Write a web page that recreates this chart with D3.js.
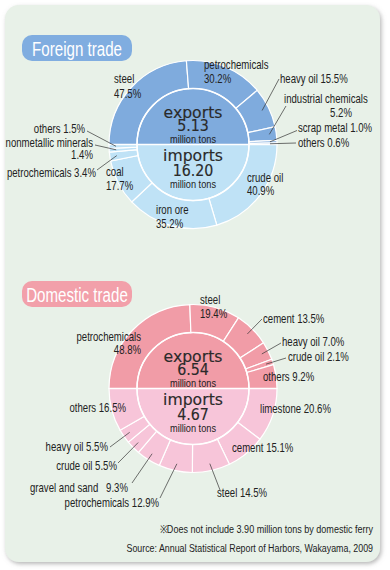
<!DOCTYPE html>
<html><head><meta charset="utf-8">
<script src="https://cdn.jsdelivr.net/npm/d3@7"></script>
<style>body{margin:0;background:#fff}svg{display:block}text{font-family:"Liberation Sans",Arial,sans-serif;fill:#222}</style>
</head><body>
<svg id="c" width="390" height="570"></svg>
<script>
// ---- data ----
const foreignExportCats = ["steel","petrochemicals","heavy oil","industrial chemicals","scrap metal","others"];
const foreignExportVals = [47.5,30.2,15.5,5.2,1.0,0.6];
const foreignImportCats = ["crude oil","iron ore","coal","petrochemicals","nonmetallic minerals","others"];
const foreignImportVals = [40.9,35.2,17.7,3.4,1.4,1.5];
const foreignTotals = [5.13, 16.20];
const domesticExportCats = ["petrochemicals","steel","cement","heavy oil","crude oil","others"];
const domesticExportVals = [48.8,19.4,13.5,7.0,2.1,9.2];
const domesticImportCats = ["limestone","cement","steel","petrochemicals","gravel and sand","crude oil","heavy oil","others"];
const domesticImportVals = [20.6,15.1,14.5,12.9,9.3,5.5,5.5,16.5];
const domesticTotals = [6.54, 4.67];
const titles = ["Foreign trade","Domestic trade"];
const notes = ["※Does not include 3.90 million tons by domestic ferry","Source: Annual Statistical Report of Harbors, Wakayama, 2009"];

// ---- label layout (positions relative to chart center) ----
// part: n = name, p = percent, np = both
const fExpLayout = [
  {lines:[["n",-79,-61.5,"start"],["p",-79,-46.5,"start"]]},
  {lines:[["n",11,-75.5,"start"],["p",11,-61.5,"start"]]},
  {lines:[["np",87,-61.5,"start"]], leader:[86,-65.5]},
  {lines:[["n",91,-41.5,"start"],["p",159,-27.5,"end"]], leader:[93,-38.5]},
  {lines:[["np",105,-12.5,"start"]], leader:[104,-14]},
  {lines:[["np",105,2,"start"]], leader:[103,-1.5]}
];
const fImpLayout = [
  {lines:[["n",54,37.5,"start"],["p",54,50.5,"start"]]},
  {lines:[["n",-37,69.5,"start"],["p",-37,83.5,"start"]]},
  {lines:[["n",-87,31.5,"start"],["p",-87,45.5,"start"]]},
  {lines:[["np",-97,32.5,"end"]], leader:[-96,25.5]},
  {lines:[["n",-100,2,"end"],["p",-100,14.5,"end"]], leader:[-98,0.5]},
  {lines:[["np",-108,-11.5,"end"]], leader:[-106,-13.5]}
];
const dExpLayout = [
  {lines:[["n",-52,-47.5,"end"],["p",-52,-34.5,"end"]]},
  {lines:[["n",7,-85,"start"],["p",7,-71,"start"]]},
  {lines:[["np",70,-65.5,"start"]], leader:[69,-69.5]},
  {lines:[["np",89,-42.5,"start"]], leader:[88,-45.5]},
  {lines:[["np",95,-27.5,"start"]], leader:[93,-30.5]},
  {lines:[["np",70,-7.5,"start"]]}
];
const dImpLayout = [
  {lines:[["np",67,24.5,"start"]]},
  {lines:[["np",39,63.5,"start"]]},
  {lines:[["np",24,108.5,"start"]], leader:[27,101.5]},
  {lines:[["np",-34,118.5,"end"]], leader:[-33,109.5]},
  {lines:[["n",-163,103.5,"start"],["p",-65,103.5,"end"]], leader:[-61,94.5]},
  {lines:[["np",-76,81.5,"end"]], leader:[-75,74.5]},
  {lines:[["np",-85,62.5,"end"]], leader:[-83,58.5]},
  {lines:[["np",-67,23.5,"end"]]}
];

const svg = d3.select("#c");
const defs = svg.append("defs");
const f = defs.append("filter").attr("id","sh").attr("x","-5%").attr("y","-5%").attr("width","110%").attr("height","110%");
f.append("feDropShadow").attr("dx",1.5).attr("dy",2).attr("stdDeviation",2).attr("flood-color","#888").attr("flood-opacity",0.6);

svg.append("rect").attr("x",5).attr("y",5).attr("width",375).attr("height",557).attr("rx",14)
  .attr("fill","#e8f1e8").attr("filter","url(#sh)");

const fmt = d3.format(".1f");
const SX = 0.8;

function label(g, str, x, y, anchor, size, sx, family, weight) {
  const t = g.append("text").attr("transform",`translate(${x},${y}) scale(${sx},1)`)
    .attr("text-anchor",anchor).style("font-size",size+"px").text(str);
  if (family) t.style("font-family",family);
  if (weight) t.style("font-weight",weight);
  return t;
}

function badge(y, text, color) {
  svg.append("rect").attr("x",22).attr("y",y).attr("width",110).attr("height",26).attr("rx",10).attr("fill",color);
  label(svg, text, 77, y+21, "middle", 21, 0.72).style("fill","#fff");
}

function donut(cx, cy, expCats, expVals, impCats, impVals, totals, cExp, cImp, expLayout, impLayout) {
  const g = svg.append("g").attr("transform",`translate(${cx},${cy})`);
  const rIn = 56, rOut = 84;
  const arc = d3.arc().innerRadius(rIn).outerRadius(rOut);
  const pieE = d3.pie().sort(null).value(d=>d.v).startAngle(-Math.PI/2).endAngle(Math.PI/2);
  const pieI = d3.pie().sort(null).value(d=>d.v).startAngle(Math.PI/2).endAngle(3*Math.PI/2);
  const eData = pieE(expCats.map((c,i)=>({c, v:expVals[i]})));
  const iData = pieI(impCats.map((c,i)=>({c, v:impVals[i]})));
  const half = d3.arc().innerRadius(0).outerRadius(rIn);
  g.append("path").attr("d",half({startAngle:-Math.PI/2,endAngle:Math.PI/2})).attr("fill",cExp);
  g.append("path").attr("d",half({startAngle:Math.PI/2,endAngle:3*Math.PI/2})).attr("fill",cImp);
  g.selectAll("path.e").data(eData).join("path").attr("class","e").attr("d",arc).attr("fill",cExp)
    .attr("stroke","#fff").attr("stroke-width",1.2);
  g.selectAll("path.i").data(iData).join("path").attr("class","i").attr("d",arc).attr("fill",cImp)
    .attr("stroke","#fff").attr("stroke-width",1.2);
  g.append("circle").attr("r",rIn).attr("fill","none").attr("stroke","#fff").attr("stroke-width",1.5);
  g.append("line").attr("x1",-rOut).attr("x2",rOut).attr("y1",0).attr("y2",0).attr("stroke","#fff").attr("stroke-width",1.5);

  function doLabels(data, layout) {
    data.forEach((d,i)=>{
      const L = layout[i];
      const name = d.data.c, pct = fmt(d.data.v)+"%";
      if (L.leader) {
        const a = (d.startAngle+d.endAngle)/2, r = 77;
        g.append("line").attr("x1",L.leader[0]).attr("y1",L.leader[1])
          .attr("x2",r*Math.sin(a)).attr("y2",-r*Math.cos(a))
          .attr("stroke","#333").attr("stroke-width",0.7);
      }
      L.lines.forEach(([part,dx,dy,anc])=>{
        const s = part==="n"?name:part==="p"?pct:name+" "+pct;
        label(g, s, dx, dy, anc, 12, SX);
      });
    });
  }
  doLabels(eData, expLayout);
  doLabels(iData, impLayout);

  const fam = "'DejaVu Sans',sans-serif";
  const big = (s, y, size) => label(g, s, 0, y, "middle", size, 0.95, fam)
    .style("fill","#2a2a2a").style("stroke","#2a2a2a").style("stroke-width",0.15);
  big("exports", -27, 16.5);
  big(d3.format(".2f")(totals[0]), -14, 15);
  label(g, "million tons", 0, -1.5, "middle", 11.5, SX);
  big("imports", 16.5, 16.5);
  big(d3.format(".2f")(totals[1]), 31, 15);
  label(g, "million tons", 0, 43, "middle", 11.5, SX);
}

badge(35, titles[0], "#80ade0");
badge(281, titles[1], "#f2a0aa");
donut(193, 144.5, foreignExportCats, foreignExportVals, foreignImportCats, foreignImportVals, foreignTotals,
  "#7fabdd", "#bfe2f6", fExpLayout, fImpLayout);
donut(193, 388.5, domesticExportCats, domesticExportVals, domesticImportCats, domesticImportVals, domesticTotals,
  "#f19ca7", "#f7c5d9", dExpLayout, dImpLayout);

// footnotes: condensed to the reference width
[[notes[0],533,214],[notes[1],552,247]].forEach(([s,y,w])=>{
  const t = svg.append("text").attr("text-anchor","end").style("font-size","11px").text(s);
  const nat = t.node().getComputedTextLength();
  t.attr("transform",`translate(373,${y}) scale(${w/nat},1)`);
});
</script>
</body></html>
